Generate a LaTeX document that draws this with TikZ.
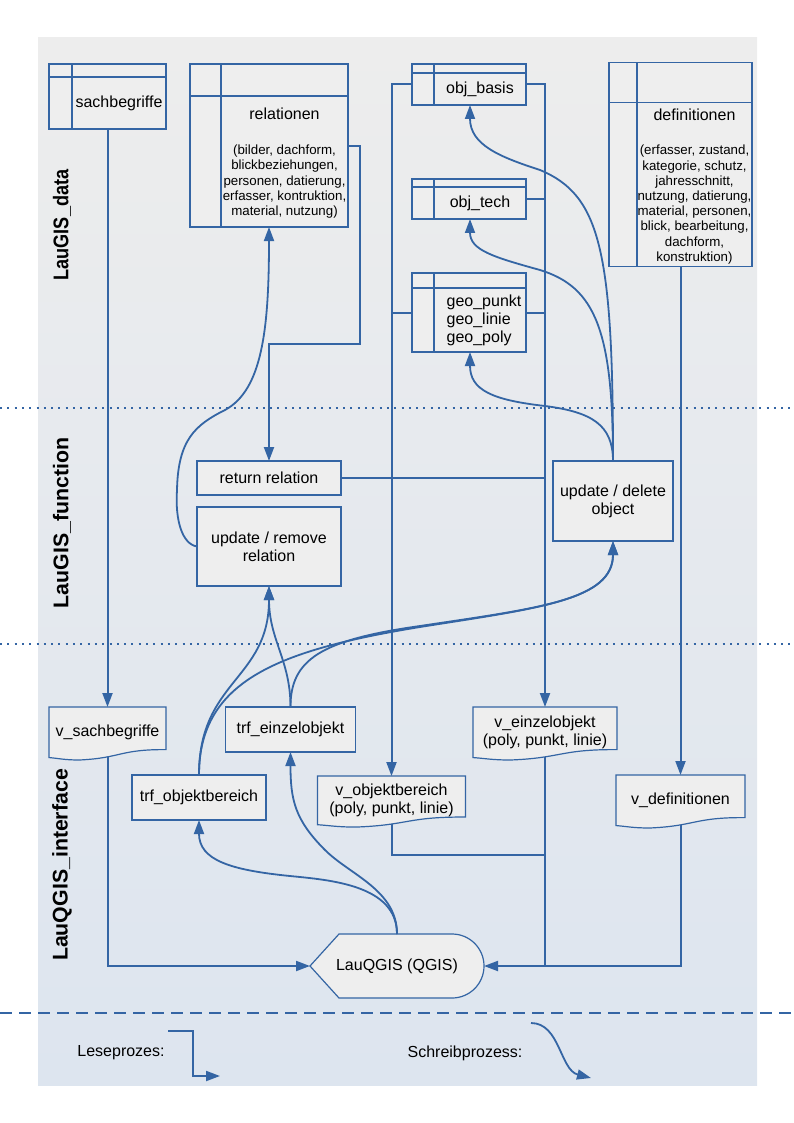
\documentclass[tikz,border=0pt]{standalone}
\usepackage{fontspec}
\setmainfont{Liberation Sans}
\usetikzlibrary{arrows.meta,positioning,calc,backgrounds}

\definecolor{linecol}{HTML}{3465A4}
\definecolor{boxfill}{HTML}{EEEEEE}
\definecolor{bgtop}{HTML}{EDEDED}
\definecolor{bgbot}{HTML}{DDE5EF}

\newcommand{\detailfont}{\fontsize{13.3}{15.2}\selectfont}
% table frame: node name, stub width, header height
\newcommand{\tableframe}[3]{%
  \filldraw[frame-fill] ($(#1.north west)+(-#2,-#3)$) rectangle (#1.south east);
  \draw[frame-line] ($(#1.north west)+(-#2,0)$) -- (#1.north east);
  \draw[frame-line] ($(#1.north west)+(0,-#3)$) -- (#1.south west);}
% document frame: node name, width, full height
\newcommand{\docframe}[3]{%
  \filldraw[frame-fill] (#1.north west) -- ($(#1.north west)+(#2,0)$)
    -- ($(#1.north west)+(#2,0.804*#3)$)
    .. controls ($(#1.north west)+(0.604*#2,0.797*#3)$) and ($(#1.north west)+(0.618*#2,0.962*#3)$)
    .. ($(#1.north west)+(0.26*#2,#3)$)
    .. controls ($(#1.north west)+(0.132*#2,#3)$) and ($(#1.north west)+(0.086*#2,0.97*#3)$)
    .. ($(#1.north west)+(0,0.954*#3)$) -- cycle;}

\begin{document}
\begin{tikzpicture}[
x=1pt, y=-1pt, >={Triangle[length=14pt,width=10pt]},
font=\fontsize{16}{18}\selectfont,
box-node/.style = {rectangle, draw=linecol, fill=boxfill, line width=1.2pt, outer sep=0pt, align=center},
text-node/.style = {rectangle, inner sep=0.5pt, outer sep=0pt, align=center},
frame-line/.style = {draw=linecol, line width=1.2pt},
frame-fill/.style = {frame-line, fill=boxfill},
read-line/.style = {draw=linecol, line width=2pt},
write-line/.style = {draw=linecol, line width=1.8pt},
lane-label/.style = {rotate=90, font=\fontsize{21.3}{22}\selectfont\bfseries},
lane-sep/.style = {draw=linecol, line width=2pt, dash pattern=on 2pt off 5.3pt}
]
\useasboundingbox (0,0) rectangle (794,1123);

% lanes
\node [lane-label] (lane-data) at (62,225) {\scalebox{0.85}[1]{LauGIS\_data}};
\node [lane-label] (lane-func) at (62,523) {LauGIS\_function};
\node [lane-label] (lane-int) at (62,865) {LauQGIS\_interface};

% tables
\node [text-node, minimum width=94pt, minimum height=52pt] (sach) at (119,103) {sachbegriffe};
\node [text-node, minimum width=127pt, minimum height=131pt] (rel) at (284.5,161.5)
  {\rule{0pt}{17pt}relationen\\[23pt]\detailfont\begin{tabular}{@{}c@{}}(bilder, dachform,\\ blickbeziehungen,\\
   personen, datierung,\\ erfasser, kontruktion,\\ material, nutzung)\end{tabular}};
\node [text-node, minimum width=92pt, minimum height=32pt] (objb) at (480,89) {obj\_basis};
\node [text-node, minimum width=92pt, minimum height=32pt] (objt) at (480,203) {obj\_tech};
\node [text-node, minimum width=92pt, minimum height=64pt, align=left] (geo) at (484,320) {geo\_punkt\\geo\_linie\\geo\_poly};
\node [text-node, minimum width=115pt, minimum height=161pt] (defs) at (694.5,184.5)
  {\rule{0pt}{17pt}definitionen\\[23pt]\detailfont\begin{tabular}{@{}c@{}}(erfasser, zustand,\\ kategorie, schutz,\\
   jahresschnitt,\\ nutzung, datierung,\\ material, personen,\\ blick, bearbeitung,\\
   dachform,\\ konstruktion)\end{tabular}};

% functions
\node [box-node, minimum width=144pt, minimum height=34pt] (retrel) at (269,478) {return relation};
\node [box-node, minimum width=144pt, minimum height=79pt] (urr) at (269,546.5) {update / remove\\relation};
\node [box-node, minimum width=120pt, minimum height=80pt] (udo) at (613,501) {update / delete\\object};

% interface
\node [text-node, minimum width=117pt, minimum height=49.8pt] (vsach) at (107.5,731.9) {v\_sachbegriffe};
\node [box-node, minimum width=130pt, minimum height=45pt] (trfe) at (290.5,729.5) {trf\_einzelobjekt};
\node [text-node, minimum width=144pt, minimum height=49.8pt] (veinz) at (545,731.9) {v\_einzelobjekt\\(poly, punkt, linie)};
\node [box-node, minimum width=134pt, minimum height=45pt] (trfo) at (199,797.5) {trf\_objektbereich};
\node [text-node, minimum width=148pt, minimum height=47.9pt] (vobj) at (391.5,800) {v\_objektbereich\\(poly, punkt, linie)};
\node [text-node, minimum width=129pt, minimum height=49.8pt] (vdef) at (680.5,799.9) {v\_definitionen};
\node [text-node, minimum width=174pt, minimum height=64pt] (qgis) at (397,966) {LauQGIS (QGIS)};

% legend
\node (lese) at (121,1053) {Leseprozes:};
\node (schreib) at (465,1053) {Schreibprozess:};
\coordinate (lese-from) at (168,1031);
\coordinate (lese-to) at (220,1076);
\coordinate (schreib-from) at (531,1023);
\coordinate (schreib-to) at (591,1078);

% separators
\draw[lane-sep] (0,408) -- (794,408);
\draw[lane-sep] (0,644) -- (794,644);
\draw[draw=linecol, line width=2pt, dash pattern=on 12pt off 7pt] (0,1013) -- (794,1013);

% read process
\draw[read-line,->] (vsach.north |- sach.south) -- (vsach.north);
\draw[read-line,->] (vsach.south) |- (qgis.west);
\draw[read-line,->] ([yshift=15.5pt]rel.east) -- ++(12,0) -- ++(0,198) -| (retrel.north);
\draw[read-line,->] ([xshift=-22pt,yshift=4.5pt]objb.west) -| (vobj.north);
\draw[read-line] ([xshift=-26pt,yshift=7.5pt]geo.west) -- +(-20.5,0);
\draw[read-line,->] ([yshift=4.5pt]objb.east) -| (veinz.north);
\draw[read-line] ([yshift=4pt]objt.east) -- +(19,0);
\draw[read-line] ([yshift=7.5pt,xshift=-4pt]geo.east) -- +(19,0);
\draw[read-line] (retrel.east) -- (retrel.east -| veinz.north);
\draw[read-line,->] (vdef.north |- defs.south) -- (vdef.north);
\draw[read-line] (vobj.south) -- ++(0,31) -| (veinz.south);
\draw[read-line] (veinz.south) -- (veinz.south |- qgis.east);
\draw[read-line,->] (vdef.south) |- (qgis.east);
\draw[read-line,->] (lese-from) -- ++(25,0) |- (lese-to);

% write process
\draw[write-line,->] (udo.north) .. controls (613,250) and (600,195) .. (540,170)
  .. controls (500,157) and (470,145) .. ([xshift=-10pt]objb.south);
\draw[write-line,->] (udo.north) .. controls (613,330) and (595,287) .. (540,270)
  .. controls (493,257) and (470,250) .. ([xshift=-10pt]objt.south);
\draw[write-line,->] (udo.north) .. controls (613,425) and (592,412) .. (545,406)
  .. controls (492,400) and (470,390) .. ([xshift=-14pt]geo.south);
\draw[write-line,->] (urr.west) .. controls (182,544) and (175,520) .. (177,490)
  .. controls (178,440) and (195,425) .. (225,410)
  .. controls (262,390) and (269,330) .. (rel.south -| urr.north);
\draw[write-line,->] (trfe.north) .. controls (290.5,660) and (269,640) .. (urr.south);
\draw[write-line,->] (trfo.north) .. controls (199,680) and (269,680) .. (urr.south);
\draw[write-line,->] (trfo.north) .. controls (199,680) and (280,650) .. (420,627)
  .. controls (540,608) and (613,600) .. (udo.south);
\draw[write-line,->] (trfe.north) .. controls (290.5,660) and (320,640) .. (420,626)
  .. controls (540,608) and (613,600) .. (udo.south);
\draw[write-line,->] (qgis.north) .. controls (397,885) and (330,880) .. (290,876)
  .. controls (230,870) and (199,860) .. (trfo.south);
\draw[write-line,->] (qgis.north) .. controls (397,890) and (350,875) .. (325,850)
  .. controls (295,820) and (290.5,800) .. (trfe.south);
\draw[write-line,->] (schreib-from) .. controls (560,1023) and (560,1070) .. (schreib-to);

% frames behind the texts
\begin{scope}[on background layer]
\shade[top color=bgtop, bottom color=bgbot] (38,38) rectangle (757,1085);
\tableframe{sach}{23}{13}
\tableframe{rel}{31}{32}
\tableframe{objb}{22}{9}
\tableframe{objt}{22}{8}
\tableframe{defs}{28}{40}
\filldraw[frame-fill] ($(geo.north west)+(-26,-15)$) rectangle ($(geo.south east)+(-4,0)$);
\draw[frame-line] ($(geo.north west)+(-26,0)$) -- ($(geo.north east)+(-4,0)$);
\draw[frame-line] ($(geo.north west)+(-4,-15)$) -- ($(geo.south west)+(-4,0)$);
\docframe{vsach}{117}{53}
\docframe{veinz}{144}{53}
\docframe{vobj}{148}{51}
\docframe{vdef}{129}{53}
\filldraw[frame-fill] (qgis.west) -- ($(qgis.north west)+(29,0)$) -- ($(qgis.north east)+(-32,0)$)
  .. controls ($(qgis.north east)+(-14.3,0)$) and ($(qgis.east)+(0,-17.7)$) .. (qgis.east)
  .. controls ($(qgis.east)+(0,17.7)$) and ($(qgis.south east)+(-14.3,0)$) .. ($(qgis.south east)+(-32,0)$)
  -- ($(qgis.south west)+(29,0)$) -- cycle;
\end{scope}

\end{tikzpicture}
\end{document}
